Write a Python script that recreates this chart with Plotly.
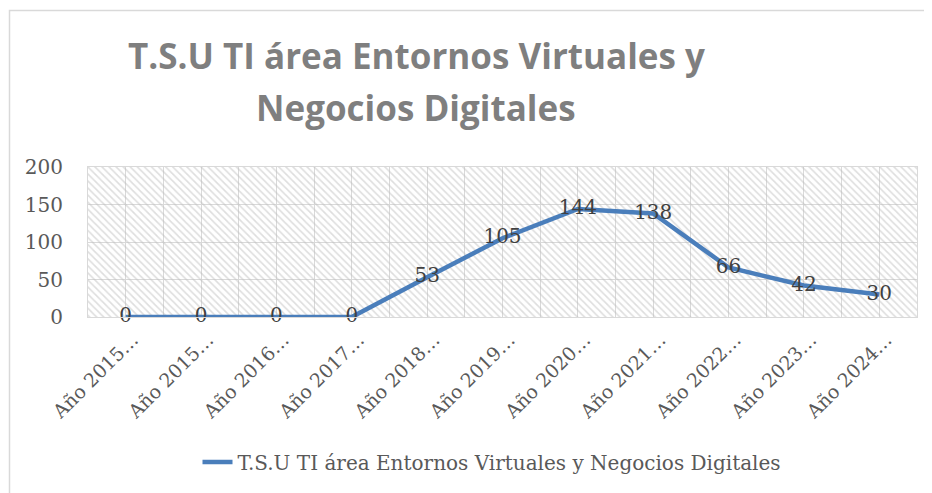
import plotly.graph_objects as go

categories = ["Año 2015…", "Año 2015…", "Año 2016…", "Año 2017…", "Año 2018…",
              "Año 2019…", "Año 2020…", "Año 2021…", "Año 2022…", "Año 2023…", "Año 2024…"]
values = [0, 0, 0, 0, 53, 105, 144, 138, 66, 42, 30]
series_name = "T.S.U TI área Entornos Virtuales y Negocios Digitales"
title_lines = ["T.S.U TI área Entornos Virtuales y", "Negocios Digitales"]
y_ticks = [0, 50, 100, 150, 200]

# page body has an 8px margin: lay out in window pixels, shift by OFF
OFF = 8
W, H = 932 - OFF, 493 - OFF
# plot area in window pixels: x 88..917, y 167..317
PL, PR, PT, PB = 88, 917, 167, 317
L, T = PL - OFF, PT - OFF
R, B = W - (PR - OFF), H - (PB - OFF)
PW, PH = PR - PL, PB - PT

def px(xp):
    return (xp - PL) / PW

def py(yp):
    return (PB - yp) / PH

xs = list(range(len(categories)))
x_lo, x_hi = -0.5, len(categories) - 0.5
y_lo, y_hi = y_ticks[0], y_ticks[-1]

serif = "'DejaVu Serif', serif"
fig = go.Figure()

# hatched plot-area background
fig.add_trace(go.Scatter(
    x=[x_lo, x_hi, x_hi, x_lo, x_lo], y=[y_lo, y_lo, y_hi, y_hi, y_lo],
    mode="none", fill="toself", fillcolor="rgba(0,0,0,0)",
    fillpattern=dict(shape="\\", fgcolor="#bdbdbd", bgcolor="rgba(255,255,255,0)", size=5, solidity=0.32),
    showlegend=False, hoverinfo="skip"))

fig.add_trace(go.Scatter(
    x=xs, y=values, mode="lines+text", name=series_name,
    line=dict(color="#4a7ebb", width=4.5),
    text=[str(v) for v in values], textposition="middle center",
    textfont=dict(family=serif, size=20, color="#404040"),
    cliponaxis=False))

fig.update_layout(
    width=W, height=H,
    margin=dict(l=L, r=R, t=T, b=B, autoexpand=False),
    paper_bgcolor="white", plot_bgcolor="white",
    showlegend=True,
    legend=dict(orientation="h", x=px(492), xanchor="center", y=py(462), yanchor="middle",
                font=dict(family=serif, size=20, color="#595959"),
                bgcolor="rgba(0,0,0,0)"),
    xaxis=dict(range=[x_lo, x_hi], tickmode="array", tickvals=xs, ticktext=categories,
               tickangle=-45, tickfont=dict(family=serif, size=19, color="#595959"),
               ticklabelshift=7,
               showgrid=True, gridcolor="#d9d9d9", gridwidth=1,
               minor=dict(tickmode="array", tickvals=[i + 0.5 for i in xs[:-1]],
                          showgrid=True, gridcolor="#d9d9d9", gridwidth=1),
               showline=True, mirror=True, linecolor="#d9d9d9", linewidth=1,
               ticks="outside", ticklen=3, tickcolor="rgba(0,0,0,0)", zeroline=False,
               automargin=False),
    yaxis=dict(range=[y_lo, y_hi], tickmode="array", tickvals=y_ticks,
               tickfont=dict(family=serif, size=20, color="#595959"),
               showgrid=True, gridcolor="#d9d9d9", gridwidth=1,
               showline=True, mirror=True, linecolor="#d9d9d9", linewidth=1,
               ticks="outside", ticklen=20, tickcolor="rgba(0,0,0,0)", zeroline=False,
               automargin=False),
)

title_font = dict(family="'Open Sans', sans-serif", size=35, color="#7f7f7f")
for line, yc in zip(title_lines, [55, 107]):
    fig.add_annotation(text="<b>%s</b>" % line, xref="paper", yref="paper",
                       x=px(416), y=py(yc), xanchor="center", yanchor="middle",
                       showarrow=False, font=title_font)

# chart outer border
fig.add_shape(type="rect", xref="paper", yref="paper",
              x0=px(9.5), x1=px(940), y0=py(510), y1=py(10.5),
              line=dict(color="#d9d9d9", width=1.5), fillcolor="rgba(0,0,0,0)", layer="below")

fig.write_html("out.html")
